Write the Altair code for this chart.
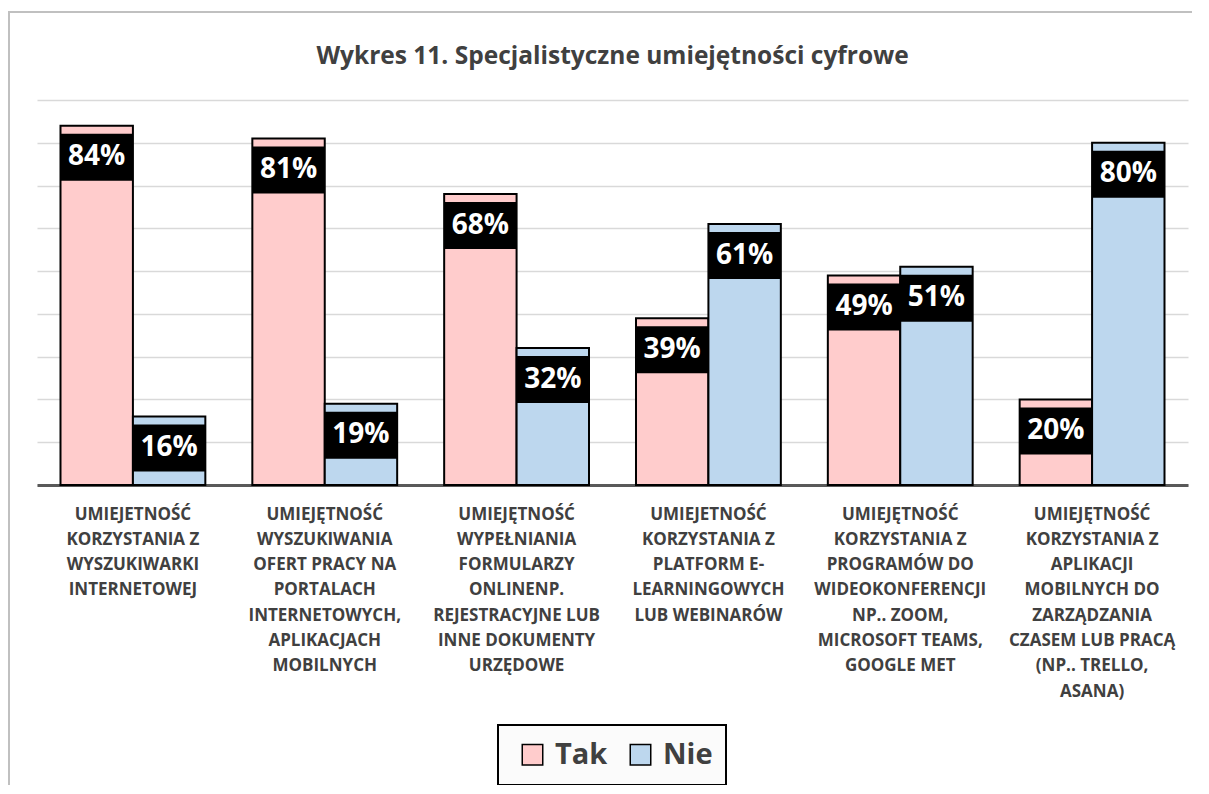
import altair as alt
import pandas as pd

categories = [
    "UMIEJETNOŚĆ|KORZYSTANIA Z|WYSZUKIWARKI|INTERNETOWEJ",
    "UMIEJĘTNOŚĆ|WYSZUKIWANIA|OFERT PRACY NA|PORTALACH|INTERNETOWYCH,|APLIKACJACH|MOBILNYCH",
    "UMIEJĘTNOŚĆ|WYPEŁNIANIA|FORMULARZY|ONLINENP.|REJESTRACYJNE LUB|INNE DOKUMENTY|URZĘDOWE",
    "UMIEJETNOŚĆ|KORZYSTANIA Z|PLATFORM E-|LEARNINGOWYCH|LUB WEBINARÓW",
    "UMIEJĘTNOŚĆ|KORZYSTANIA Z|PROGRAMÓW DO|WIDEOKONFERENCJI|NP.. ZOOM,|MICROSOFT TEAMS,|GOOGLE MET",
    "UMIEJĘTNOŚĆ|KORZYSTANIA Z|APLIKACJI|MOBILNYCH DO|ZARZĄDZANIA|CZASEM LUB PRACĄ|(NP.. TRELLO,|ASANA)",
]
series_names = ["Tak", "Nie"]
tak = [84, 81, 68, 39, 49, 20]
nie = [16, 19, 32, 61, 51, 80]
colors = ["#FFCCCC", "#BDD7EE"]
title_text = "Wykres 11. Specjalistyczne umiejętności cyfrowe"

rows = []
for i, c in enumerate(categories):
    rows.append({"cat": c, "series": "Tak", "value": tak[i], "label": f"{tak[i]}%"})
    rows.append({"cat": c, "series": "Nie", "value": nie[i], "label": f"{nie[i]}%"})
df = pd.DataFrame(rows)

FONT = "Open Sans"

x_enc = alt.X(
    "cat:N",
    sort=categories,
    scale=alt.Scale(paddingInner=0.245, paddingOuter=0.1225),
    axis=alt.Axis(
        title=None,
        labelAngle=0,
        labelExpr="split(datum.label, '|')",
        labelFont=FONT,
        labelFontWeight="bold",
        labelFontSize=17,
        labelColor="#404040",
        labelLineHeight=25.3,
        labelPadding=21,
        labelLimit=300,
        labelOverlap=False,
        labelBaseline="top",
        ticks=False,
        domainColor="#595959",
        domainWidth=3,
        grid=False,
    ),
)
xoff_enc = alt.XOffset("series:N", sort=series_names, scale=alt.Scale(paddingInner=0, paddingOuter=0))
y_enc = alt.Y(
    "value:Q",
    scale=alt.Scale(domain=[0, 90], nice=False),
    axis=alt.Axis(
        title=None,
        labels=False,
        ticks=False,
        domain=False,
        values=[0, 10, 20, 30, 40, 50, 60, 70, 80, 90],
        gridColor="#d9d9d9",
        gridWidth=1.5,
    ),
)

one = alt.Data(values=[{"k": 1}])

frame = alt.Chart(one).mark_rect(fill=None, stroke="#c0c0c0", strokeWidth=2).encode(
    x=alt.value(-28), x2=alt.value(1200), y=alt.value(-88), y2=alt.value(720)
)

legend_box = alt.Chart(one).mark_rect(fill="#fbfbfb", stroke="black", strokeWidth=2).encode(
    x=alt.value(461), x2=alt.value(689), y=alt.value(625), y2=alt.value(685)
)

bars = alt.Chart(df).mark_bar(stroke="black", strokeWidth=2).encode(
    x=x_enc,
    xOffset=xoff_enc,
    y=y_enc,
    color=alt.Color(
        "series:N",
        sort=series_names,
        scale=alt.Scale(domain=series_names, range=colors),
        legend=alt.Legend(
            title=None,
            orient="none",
            legendX=481,
            legendY=640,
            direction="horizontal",
            symbolType="square",
            symbolSize=420,
            symbolStrokeColor="black",
            symbolStrokeWidth=1.5,
            labelFont=FONT,
            labelFontWeight="bold",
            labelFontSize=29,
            labelColor="#404040",
            labelOffset=8,
            columnPadding=18,
            padding=0,
        ),
    ),
)

boxes = alt.Chart(df).mark_rect(color="black", yOffset=8, y2Offset=55).encode(
    x=alt.X("cat:N", sort=categories),
    xOffset=alt.XOffset("series:N", sort=series_names),
    y=alt.Y("value:Q"),
    y2="value:Q",
)

texts = alt.Chart(df).mark_text(
    color="white", font=FONT, fontWeight="bold", fontSize=28, dy=31.5, baseline="middle"
).encode(
    x=alt.X("cat:N", sort=categories),
    xOffset=alt.XOffset("series:N", sort=series_names),
    y=alt.Y("value:Q"),
    text="label:N",
)

chart = (
    alt.layer(frame, legend_box, bars, boxes, texts)
    .properties(
        width=1151,
        height=385,
        title=alt.TitleParams(
            title_text,
            font=FONT,
            fontSize=24.5,
            fontWeight="bold",
            color="#404040",
            anchor="middle",
            frame="group",
            offset=-58,
        ),
        autosize=alt.AutoSizeParams(type="none"),
        padding={"left": 29, "top": 92, "right": 4, "bottom": 300},
    )
    .configure_view(stroke=None)
)

chart.save("out.html", embed_options={"renderer": "svg", "actions": False})
